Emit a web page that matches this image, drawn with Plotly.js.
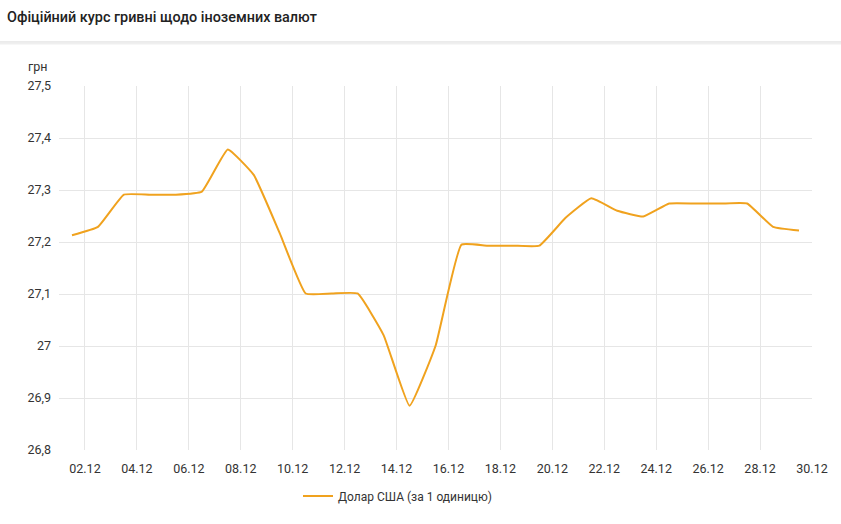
<!DOCTYPE html>
<html>
<head>
<meta charset="utf-8">
<script src="https://cdn.plot.ly/plotly-3.0.1.min.js"></script>
<style>
html,body{margin:0;padding:0;background:#fff;}
#chart{width:841px;height:524px;}
</style>
</head>
<body>
<div id="chart"></div>
<script>
// Data: official UAH/USD rate, December
const dates = ['2021-12-01','2021-12-02','2021-12-03','2021-12-04','2021-12-05','2021-12-06','2021-12-07',
  '2021-12-08','2021-12-09','2021-12-10','2021-12-11','2021-12-12','2021-12-13','2021-12-14','2021-12-15',
  '2021-12-16','2021-12-17','2021-12-18','2021-12-19','2021-12-20','2021-12-21','2021-12-22','2021-12-23',
  '2021-12-24','2021-12-25','2021-12-26','2021-12-27','2021-12-28','2021-12-29'];
const usdRate = [27.213,27.229,27.291,27.291,27.291,27.297,27.378,
  27.329,27.217,27.101,27.101,27.101,27.021,26.885,27.000,
  27.195,27.193,27.193,27.193,27.246,27.284,27.260,27.249,
  27.274,27.274,27.274,27.274,27.229,27.222];
const seriesName = 'Долар США (за 1 одиницю)';
const chartTitle = 'Офіційний курс гривні щодо іноземних валют';
const unitLabel = 'грн';

// points are drawn at the middle of each day cell
const xCenters = dates.map(d => d + ' 12:00');

const L = 59, R = 812, T = 86, B = 450, W = 841, H = 524;
const pw = R - L, ph = B - T;
const px = v => (v - L) / pw;
const py = v => (B - v) / ph;

const trace = {
  x: xCenters, y: usdRate, type: 'scatter', mode: 'lines', name: seriesName,
  line: {color: '#f0a21e', width: 2, shape: 'spline', smoothing: 0.35},
  hoverinfo: 'x+y'
};

const font = {family: 'Roboto, "Noto Sans", sans-serif', color: '#333', size: 13};

const layout = {
  width: W, height: H,
  margin: {l: L, r: W - R, t: T, b: H - B, pad: 0},
  paper_bgcolor: '#fff', plot_bgcolor: '#fff',
  font: font,
  separators: ', ',
  showlegend: true,
  title: {
    text: chartTitle, xref: 'container', yref: 'container',
    x: 7 / W, xanchor: 'left', y: 1 - 17 / H, yanchor: 'middle',
    font: {family: 'Roboto, sans-serif', size: 14.4, color: '#222', weight: 500}
  },
  xaxis: {
    type: 'date',
    range: ['2021-12-01', '2021-12-30'],
    tick0: '2021-12-02', dtick: 2 * 86400000,
    tickformat: '%d.%m',
    showgrid: true, gridcolor: '#e6e6e6', gridwidth: 1,
    zeroline: false, showline: false, ticks: '',
    tickfont: {size: 12.5, color: '#333'},
    ticklabelstandoff: 9,
    fixedrange: true
  },
  yaxis: {
    range: [26.8, 27.5], dtick: 0.1, tick0: 26.8,
    showgrid: true, gridcolor: '#e6e6e6', gridwidth: 1,
    zeroline: false, showline: false, ticks: '',
    tickfont: {size: 12.5, color: '#333'},
    ticklabelstandoff: 7,
    fixedrange: true
  },
  legend: {
    orientation: 'h', x: px(397.5), xanchor: 'center', y: py(496), yanchor: 'middle',
    font: {size: 12, color: '#333'}, itemwidth: 30, bgcolor: 'rgba(0,0,0,0)'
  },
  shapes: [
    {type: 'line', xref: 'paper', yref: 'paper', x0: px(0), x1: px(W), y0: py(42), y1: py(42),
     line: {color: '#d6d6d6', width: 1}},
    {type: 'line', xref: 'paper', yref: 'paper', x0: px(0), x1: px(W), y0: py(43.5), y1: py(43.5),
     line: {color: '#efefef', width: 2}}
  ],
  annotations: [
    {text: unitLabel, xref: 'paper', yref: 'paper', x: px(26), y: py(67),
     xanchor: 'left', yanchor: 'middle', showarrow: false,
     font: {size: 12.5, color: '#333'}}
  ]
};

Plotly.newPlot('chart', [trace], layout, {displayModeBar: false, staticPlot: false});
</script>
</body>
</html>
